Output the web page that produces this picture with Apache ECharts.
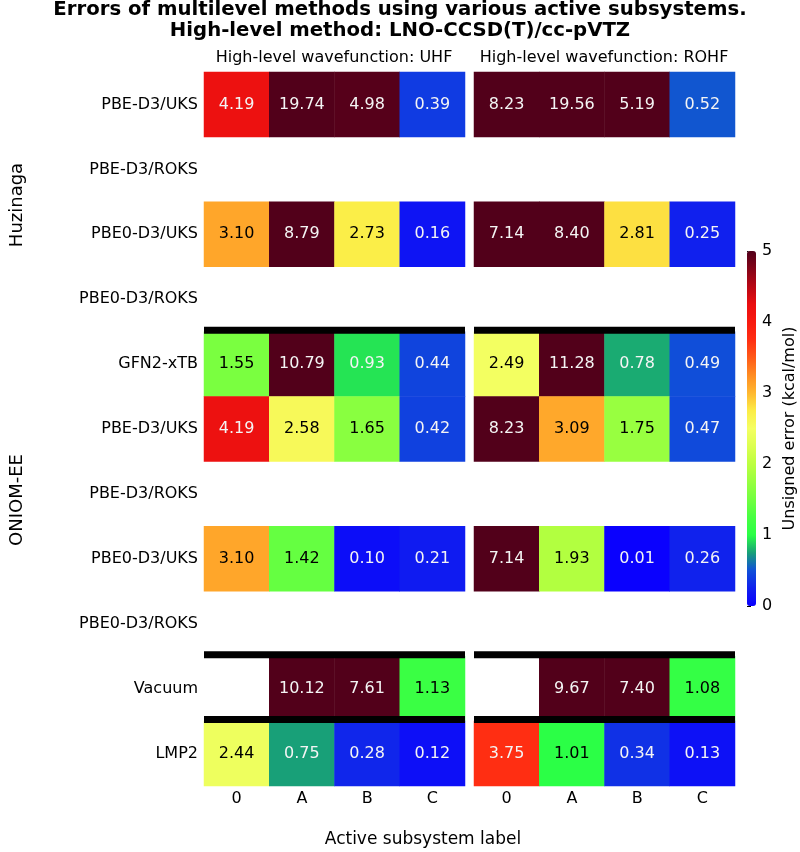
<!DOCTYPE html>
<html>
<head>
<meta charset="utf-8">
<script src="https://cdn.jsdelivr.net/npm/echarts@6/dist/echarts.min.js"></script>
<style>
  html, body { margin: 0; padding: 0; background: #fff; }
  #chart { width: 800px; height: 852px; }
</style>
</head>
<body>
<div id="chart"></div>
<script>
// active subsystem labels (columns)
const columns = ["0", "A", "B", "C"];
// low-level method rows, top to bottom
const rowLabels = [
  "PBE-D3/UKS", "PBE-D3/ROKS", "PBE0-D3/UKS", "PBE0-D3/ROKS",
  "GFN2-xTB", "PBE-D3/UKS", "PBE-D3/ROKS", "PBE0-D3/UKS", "PBE0-D3/ROKS",
  "Vacuum", "LMP2",
];
// unsigned errors, kcal/mol (null = not computed)
const uhfErrors = [
  [4.19, 19.74, 4.98, 0.39],
  null,
  [3.10, 8.79, 2.73, 0.16],
  null,
  [1.55, 10.79, 0.93, 0.44],
  [4.19, 2.58, 1.65, 0.42],
  null,
  [3.10, 1.42, 0.10, 0.21],
  null,
  [null, 10.12, 7.61, 1.13],
  [2.44, 0.75, 0.28, 0.12],
];
const rohfErrors = [
  [8.23, 19.56, 5.19, 0.52],
  null,
  [7.14, 8.40, 2.81, 0.25],
  null,
  [2.49, 11.28, 0.78, 0.49],
  [8.23, 3.09, 1.75, 0.47],
  null,
  [7.14, 1.93, 0.01, 0.26],
  null,
  [null, 9.67, 7.40, 1.08],
  [3.75, 1.01, 0.34, 0.13],
];
// black separator above these rows
const separatorRows = [4, 9, 10];
const panelTitles = ["High-level wavefunction: UHF", "High-level wavefunction: ROHF"];

// colormap, evenly spaced from 0 to 5
const colormap = [
  "#0a00ff", "#1020ee", "#1050d8", "#18a078", "#2aff46",
  "#48ff42", "#72ff40", "#98ff40", "#bcff40", "#dcff50",
  "#f4ff62", "#fcec46", "#ffb830", "#ff8c22", "#ff5a18",
  "#ff2e12", "#f81a10", "#ea0e10", "#b80814", "#840418",
  "#52001a",
];

const font = "DejaVu Sans";

function toCells(rows) {
  const out = [];
  rows.forEach((vals, r) => {
    if (!vals) return;
    vals.forEach((v, c) => {
      if (v === null) return;
      out.push({
        value: [c, r, v],
        label: { color: v < 1 || v > 3.5 ? "#f4f4f4" : "#000" },
      });
    });
  });
  return out;
}

const chart = echarts.init(document.getElementById("chart"));

const gridLefts = [204, 474];

function heatSeries(idx, rows) {
  return {
    type: "heatmap",
    xAxisIndex: idx,
    yAxisIndex: idx,
    data: toCells(rows),
    label: {
      show: true,
      fontSize: 16,
      fontFamily: font,
      formatter: (p) => p.value[2].toFixed(2),
    },
    itemStyle: { borderWidth: 0 },
    emphasis: { disabled: true },
  };
}

function sepSeries(idx) {
  return {
    type: "custom",
    xAxisIndex: idx,
    yAxisIndex: idx,
    clip: false,
    silent: true,
    data: separatorRows.map((r) => [0, r]),
    renderItem: (params, api) => {
      const p = api.coord([api.value(0), api.value(1)]);
      const s = api.size([1, 1]);
      return {
        type: "rect",
        shape: {
          x: p[0] - s[0] / 2,
          y: p[1] - s[1] / 2 - 5,
          width: s[0] * columns.length,
          height: 7,
        },
        style: { fill: "#000" },
      };
    },
  };
}

const option = {
  animation: false,
  textStyle: { fontFamily: font },
  title: [
    {
      text: "Errors of multilevel methods using various active subsystems.\nHigh-level method: LNO-CCSD(T)/cc-pVTZ",
      left: "center",
      top: -1,
      padding: 0,
      textStyle: { fontSize: 19.7, fontWeight: "bold", lineHeight: 21, color: "#000" },
    },
    ...panelTitles.map((t, i) => ({
      text: t,
      left: gridLefts[i] + 130,
      top: 50,
      padding: 0,
      textAlign: "center",
      textStyle: { fontSize: 16, fontWeight: "normal", color: "#000" },
    })),
  ],
  grid: [
    { left: 204, top: 72, width: 261, height: 714 },
    { left: 474, top: 72, width: 261, height: 714 },
    { left: 747, top: 251, width: 9, height: 355 },
  ],
  xAxis: [0, 1].map((i) => ({
    type: "category",
    gridIndex: i,
    data: columns,
    axisLine: { show: false },
    axisTick: { show: false },
    axisLabel: { fontSize: 16, color: "#000", margin: 5 },
    splitLine: { show: false },
  })).concat([{ type: "value", gridIndex: 2, show: false, min: 0, max: 1 }]),
  yAxis: [0, 1].map((i) => ({
    type: "category",
    gridIndex: i,
    inverse: true,
    data: rowLabels.map((l, k) => String(k)),
    axisLine: { show: false },
    axisTick: { show: false },
    axisLabel: {
      show: i === 0,
      fontSize: 16,
      color: "#000",
      margin: 6,
      formatter: (v) => rowLabels[+v],
    },
    splitLine: { show: false },
  })).concat([{
    type: "value",
    gridIndex: 2,
    min: 0,
    max: 5,
    interval: 1,
    position: "right",
    axisLine: { show: false },
    axisTick: { show: true, length: 4, lineStyle: { color: "#000" } },
    axisLabel: { fontSize: 16, color: "#000", margin: 6 },
    splitLine: { show: false },
    name: "Unsigned error (kcal/mol)",
    nameLocation: "middle",
    nameRotate: 90,
    nameGap: 26,
    nameTextStyle: { fontSize: 16, color: "#000" },
  }]),
  visualMap: {
    type: "continuous",
    min: 0,
    max: 5,
    dimension: 2,
    seriesIndex: [0, 1],
    calculable: false,
    orient: "vertical",
    left: 747,
    top: 251,
    itemWidth: 9,
    itemHeight: 355,
    padding: 0,
    inRange: { color: colormap },
  },
  graphic: [
    {
      type: "text", x: 17, y: 205, rotation: Math.PI / 2,
      style: { text: "Huzinaga", font: "18px " + font, fill: "#000", align: "center", verticalAlign: "middle" },
    },
    {
      type: "text", x: 17, y: 500, rotation: Math.PI / 2,
      style: { text: "ONIOM-EE", font: "18px " + font, fill: "#000", align: "center", verticalAlign: "middle" },
    },
    {
      type: "text", x: 423, y: 840,
      style: { text: "Active subsystem label", font: "17px " + font, fill: "#000", align: "center", verticalAlign: "middle" },
    },
  ],
  series: [
    heatSeries(0, uhfErrors),
    heatSeries(1, rohfErrors),
    sepSeries(0),
    sepSeries(1),
  ],
};

chart.setOption(option);
window.addEventListener("resize", () => {
  chart.resize();
});
</script>
</body>
</html>
